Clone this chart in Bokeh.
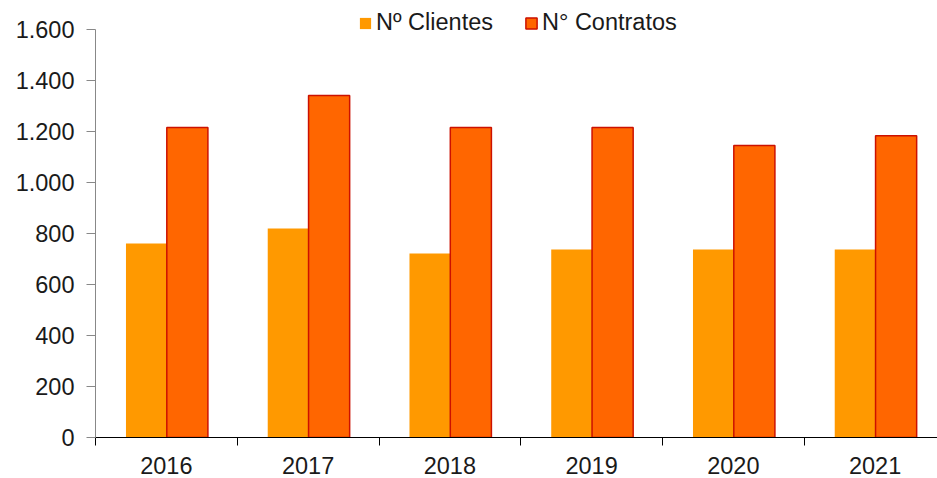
from bokeh.plotting import figure
from bokeh.models import Range1d, FixedTicker, Legend, LegendItem, ColumnDataSource
from bokeh.transform import dodge
from bokeh.embed import file_html
from bokeh.resources import INLINE

years = ["2016", "2017", "2018", "2019", "2020", "2021"]
clientes = [761, 820, 722, 737, 737, 737]
contratos = [1216, 1341, 1216, 1216, 1145, 1184]
y_ticks = [0, 200, 400, 600, 800, 1000, 1200, 1400, 1600]
y_tick_labels = ["0", "200", "400", "600", "800", "1.000", "1.200", "1.400", "1.600"]

FONT = "Liberation Sans"
TXT = "#1a1a1a"

xpos = list(range(1, len(years) + 1))
src = ColumnDataSource(dict(x=xpos, clientes=clientes, contratos=contratos))

p = figure(width=937, height=478, output_backend="svg", toolbar_location=None,
           x_range=Range1d(0.5, 6.44), y_range=Range1d(0, 1714),
           min_border_left=95, min_border_right=0, min_border_top=0, min_border_bottom=41)
p.outline_line_color = None
p.xgrid.visible = False
p.ygrid.visible = False
p.background_fill_color = "white"
p.border_fill_color = "white"

r1 = p.vbar(x=dodge("x", -0.14, range=p.x_range), top="clientes", width=0.29, source=src,
            fill_color="#FF9900", line_color=None)
r2 = p.vbar(x=dodge("x", 0.148, range=p.x_range), top="contratos", width=0.29, source=src,
            fill_color="#FF6600", line_color="#CC1100", line_width=1.5)

# x axis
xa = p.xaxis[0]
xa.ticker = FixedTicker(ticks=xpos, minor_ticks=[x - 0.5 for x in xpos] + [len(xpos) + 0.5])
xa.major_label_overrides = {x: y for x, y in zip(xpos, years)}
xa.major_tick_line_color = None
xa.minor_tick_line_color = "black"
xa.minor_tick_out = 8
xa.minor_tick_in = 0
xa.axis_line_color = "black"
xa.axis_line_width = 1
xa.major_label_text_font = FONT
xa.major_label_text_font_size = "23.5px"
xa.major_label_text_color = TXT
xa.major_label_standoff = 11

# y axis
ya = p.yaxis[0]
ya.ticker = FixedTicker(ticks=y_ticks)
ya.major_label_overrides = {t: l for t, l in zip(y_ticks, y_tick_labels)}
ya.bounds = (0, 1600)
ya.axis_line_color = "#888888"
ya.major_tick_line_color = "#888888"
ya.major_tick_out = 9
ya.major_tick_in = 0
ya.minor_tick_line_color = None
ya.major_label_text_font = FONT
ya.major_label_text_font_size = "23.5px"
ya.major_label_text_color = TXT
ya.major_label_standoff = 12

legend = Legend(items=[LegendItem(label="Nº Clientes", renderers=[r1]),
                       LegendItem(label="N° Contratos", renderers=[r2])],
                orientation="horizontal", location=(263, 401),
                padding=0, margin=0, spacing=31, glyph_width=14, glyph_height=14,
                label_standoff=4, label_text_font=FONT, label_text_font_size="23.5px",
                label_text_color=TXT, border_line_color=None, background_fill_alpha=0)
p.add_layout(legend)

open("out.html", "w").write(file_html(p, INLINE))
